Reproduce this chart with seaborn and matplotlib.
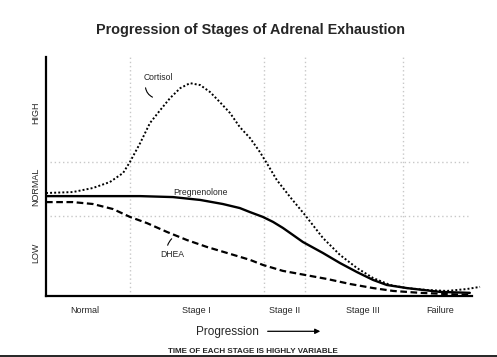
import matplotlib
matplotlib.use("Agg")
import matplotlib.pyplot as plt
import seaborn as sns
from matplotlib.lines import Line2D
from matplotlib.patches import FancyArrowPatch

# curves, x = progression (0-100), y = level (0-100)
cortisol_x = [0, 6.3, 11.0, 15.0, 18.1, 19.7, 22.1, 24.4, 26.8, 29.1, 31.5, 33.8, 36.2,
              38.5, 40.8, 43.2, 45.5, 47.9, 50.2, 52.1, 54.2, 57.5, 60.8, 65.0, 69.0, 73.0,
              76.8, 80.8, 84.7, 89.4, 94.1, 98.8, 101.9]
cortisol_y = [43.1, 43.5, 45.2, 47.7, 51.5, 56.1, 64.0, 72.4, 77.8, 82.8, 87.0, 89.1, 88.3,
              85.4, 81.2, 76.6, 70.7, 66.1, 60.3, 54.8, 48.5, 41.0, 33.9, 24.3, 17.2, 11.7,
              7.5, 4.6, 3.3, 2.5, 2.1, 2.9, 3.8]

preg_x = [0, 12.7, 22.1, 29.8, 36.2, 41.5, 45.5, 47.9, 50.9, 53.3, 55.6, 58.0, 60.3, 65.0,
          69.0, 73.0, 76.8, 80.0, 84.7, 92.5, 99.5]
preg_y = [41.8, 41.8, 41.8, 41.4, 40.2, 38.5, 36.8, 35.1, 33.1, 31.0, 28.5, 25.5, 22.6, 18.0,
          13.8, 10.0, 6.7, 4.6, 3.3, 1.7, 1.3]

dhea_x = [0, 6.3, 11.0, 15.7, 19.7, 23.7, 28.4, 33.1, 37.8, 42.5, 47.9, 50.9, 55.6,
          60.8, 66.0, 71.4, 76.8, 81.5, 87.8, 94.1, 99.5]
dhea_y = [39.3, 39.3, 38.5, 36.4, 33.1, 30.5, 26.8, 23.4, 20.5, 18.0, 15.1, 13.0, 10.5,
          8.8, 7.1, 5.0, 3.3, 2.1, 1.3, 0.8, 0.4]

stage_bounds = [19.7, 51.2, 60.8, 83.8]
stage_names = ["Normal", "Stage I", "Stage II", "Stage III", "Failure"]
stage_pos = [9.2, 35.4, 56.1, 74.4, 92.5]

level_bounds = [33.5, 56.0]
level_names = ["LOW", "NORMAL", "HIGH"]
level_pos = [18.0, 45.6, 76.6]

sns.set_style("white")
plt.rcParams["font.family"] = ["Liberation Sans", "DejaVu Sans"]

fig = plt.figure(figsize=(4.97, 3.57), dpi=100)
ax = fig.add_axes([0.0926, 0.171, 0.857, 0.669])

for v in stage_bounds:
    ax.axvline(v, color="#c8c8c8", lw=1, ls=(0, (1, 2)), zorder=0)
for h in level_bounds:
    ax.axhline(h, xmin=0.01, xmax=0.99, color="#c8c8c8", lw=1, ls=(0, (1, 2)), zorder=0)

sns.lineplot(x=cortisol_x, y=cortisol_y, ax=ax, color="black", lw=1.4,
             linestyle=(0, (1, 1.1)), estimator=None, clip_on=False)
sns.lineplot(x=preg_x, y=preg_y, ax=ax, color="black", lw=1.7, estimator=None)
sns.lineplot(x=dhea_x, y=dhea_y, ax=ax, color="black", lw=1.6,
             linestyle=(0, (3, 1.6)), estimator=None)

ax.set_xlim(0, 100)
ax.set_ylim(0, 100)
ax.set_xticks(stage_pos, stage_names, fontsize=6.5)
ax.set_yticks(level_pos, level_names, fontsize=6.5, rotation=90, va="center")
ax.tick_params(axis="both", length=0)
ax.tick_params(axis="x", pad=7)
ax.tick_params(axis="y", pad=4)

sns.despine(ax=ax)
for side in ["left", "bottom"]:
    ax.spines[side].set_linewidth(1.6)
    ax.spines[side].set_color("black")

# curve labels
ax.text(26.3, 91.6, "Cortisol", fontsize=6.2, ha="center", va="center")
ax.annotate("", xy=(25.6, 82.8), xytext=(23.3, 88.3),
            arrowprops=dict(arrowstyle="-", lw=0.8, color="black",
                            connectionstyle="arc3,rad=0.35"))
ax.text(36.2, 43.5, "Pregnenolone", fontsize=6.2, ha="center", va="center")
ax.text(29.6, 17.2, "DHEA", fontsize=6.2, ha="center", va="center")
ax.annotate("", xy=(30.0, 24.7), xytext=(28.4, 20.1),
            arrowprops=dict(arrowstyle="-", lw=0.8, color="black",
                            connectionstyle="arc3,rad=-0.2"))

fig.text(0.505, 0.916, "Progression of Stages of Adrenal Exhaustion",
         fontsize=10.4, fontweight="bold", ha="center", va="center")
fig.text(0.457, 0.070, "Progression", fontsize=8.5, ha="center", va="center")
fig.add_artist(FancyArrowPatch(
    (0.533, 0.072), (0.650, 0.072), transform=fig.transFigure,
    arrowstyle="-|>,head_length=3,head_width=1.5", lw=0.9, color="black"))
fig.text(0.509, 0.016, "TIME OF EACH STAGE IS HIGHLY VARIABLE",
         fontsize=5.8, fontweight="bold", ha="center", va="center")
fig.add_artist(Line2D([0, 1], [0.002, 0.002], transform=fig.transFigure,
                      color="black", lw=1.2))

fig.savefig("out.png", dpi=100)
